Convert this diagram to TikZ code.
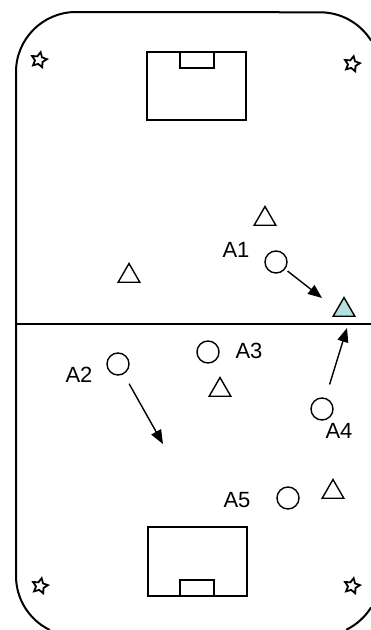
\documentclass[tikz,border=0pt]{standalone}
\usepackage{fontspec}
\setmainfont{Liberation Sans}
\usetikzlibrary{shapes.geometric,arrows.meta}
\definecolor{tealfill}{HTML}{B4E0E0}
\begin{document}
\begin{tikzpicture}[x=1pt,y=-1pt,
  frame/.style={line width=2pt},
  boxline/.style={line width=1.8pt},
  player/.style={circle,draw,line width=1.4pt,minimum size=22pt,inner sep=0pt},
  cone/.style={regular polygon,regular polygon sides=3,draw,line width=1.4pt,minimum size=25pt,inner sep=0pt},
  flag/.style={star,star points=5,star point ratio=2.0,draw,line width=1.8pt,minimum size=16pt,inner sep=0pt,rotate=-12},
  lbl/.style={font=\fontsize{22}{22}\selectfont,inner sep=0pt},
  move/.style={line width=1.4pt,-{Triangle[length=14pt,width=11pt]}}
]
\useasboundingbox (0,0) rectangle (371,630);
% pitch outline (only the part inside the page)
\draw[frame] (371,40.5) arc[start angle=-32, end angle=-90, radius=60] -- (76,12)
  arc[start angle=-90, end angle=-180, radius=60] -- (16,576)
  arc[start angle=180, end angle=115.9, radius=60];
\draw[frame] (371,607.5) arc[start angle=32, end angle=64.1, radius=60];
\draw[frame] (16,324) -- (371,324);
% goals
\draw[boxline] (147,52) rectangle (246,120);
\draw[boxline] (180,52) rectangle (214,68);
\draw[boxline] (148,527) rectangle (247,596);
\draw[boxline] (180,580) rectangle (214,596);
% corner flags
\node[flag] (f1) at (39,60) {};
\node[flag] (f2) at (352,64) {};
\node[flag] (f3) at (40,586) {};
\node[flag] (f4) at (352,586) {};
% cones
\node[cone] (t1) at (265,219) {};
\node[cone] (t2) at (129,276) {};
\node[cone] (t3) at (220,390) {};
\node[cone,fill=tealfill] (t4) at (344,310) {};
\node[cone] (t5) at (333,492) {};
% players
\node[player] (p1) at (276,262) {};
\node[player] (p2) at (118,364) {};
\node[player] (p3) at (208,352) {};
\node[player] (p4) at (322,409) {};
\node[player] (p5) at (288,498) {};
% labels
\node[lbl] (l1) at (236,250) {A1};
\node[lbl] (l2) at (79,375) {A2};
\node[lbl] (l3) at (249,351) {A3};
\node[lbl] (l4) at (339,431) {A4};
\node[lbl] (l5) at (237,500) {A5};
% runs
\coordinate (e1) at (322,298);
\coordinate (e2) at (163,444);
\coordinate (e4) at (347,328);
\draw[move,shorten <=3pt] (p1) -- (e1);
\draw[move,shorten <=11pt] (p2) -- (e2);
\draw[move,shorten <=14pt] (p4) -- (e4);
\end{tikzpicture}
\end{document}
